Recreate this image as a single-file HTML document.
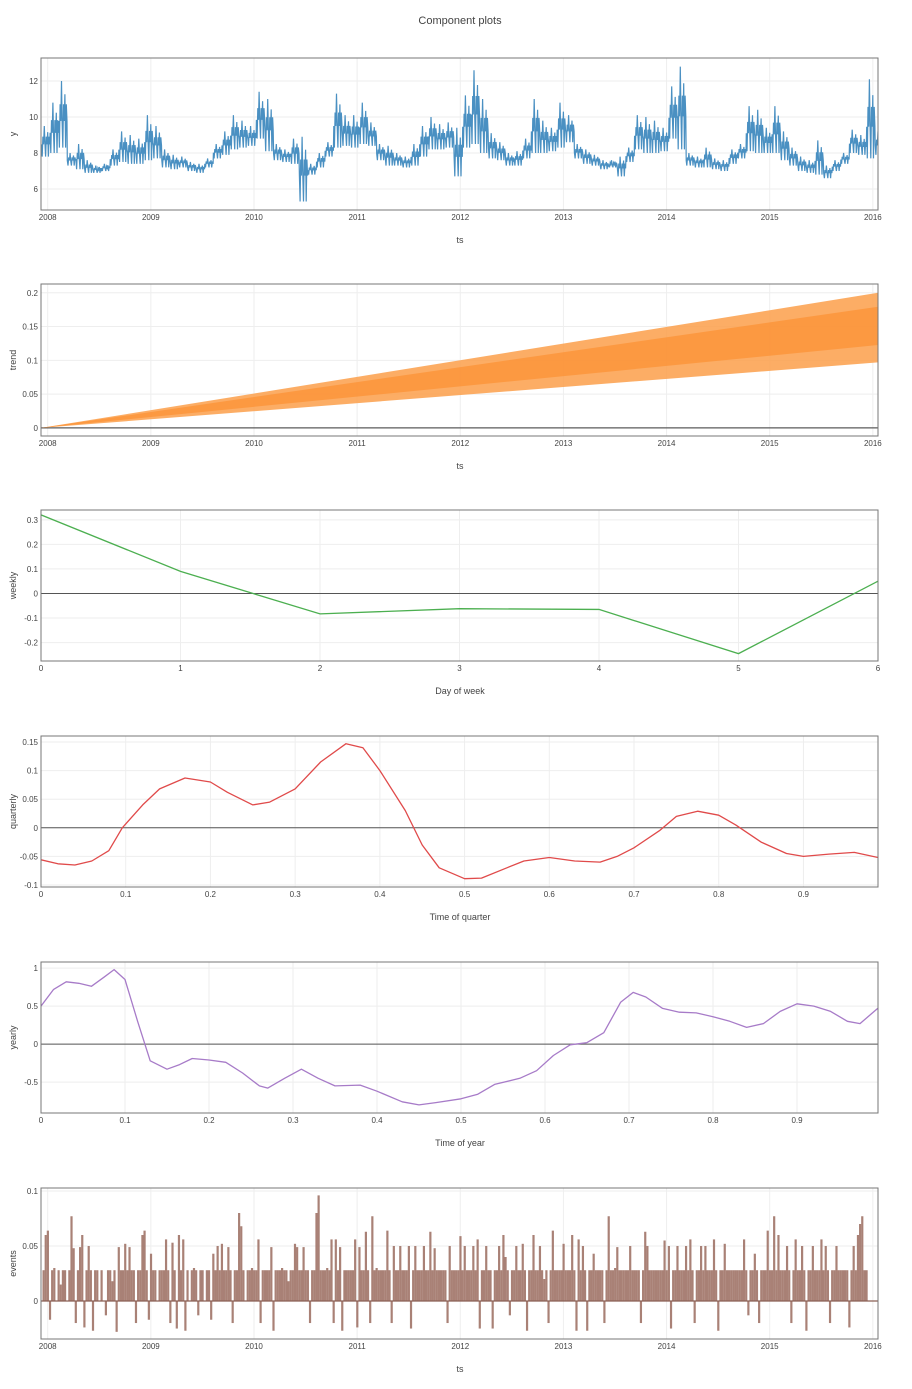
<!DOCTYPE html>
<html><head><meta charset="utf-8">
<style>
body{margin:0;background:#fff;font-family:"Liberation Sans",sans-serif;}
svg text{font-family:"Liberation Sans",sans-serif;fill:#444;}
</style></head>
<body>
<svg id="chart" width="912" height="1384" xmlns="http://www.w3.org/2000/svg">
<text x="460" y="24" text-anchor="middle" font-size="11">Component plots</text>
</svg>
<script>
// ---- data ----
const yearTicks = [2008,2009,2010,2011,2012,2013,2014,2015,2016];
const yLow = [7.8,8.0,8.3,7.3,7.1,6.9,6.9,7.0,7.3,7.5,7.4,7.4,7.6,7.7,7.2,7.1,7.2,7.0,6.9,7.2,7.7,7.9,8.2,8.3,8.4,8.8,8.1,7.6,7.5,7.4,5.3,6.8,7.2,7.8,8.3,8.4,8.3,8.5,8.4,7.6,7.3,7.3,7.2,7.3,7.8,8.2,8.2,8.3,6.7,8.3,8.5,8.0,7.7,7.6,7.3,7.3,7.7,8.0,8.0,8.1,8.3,8.6,7.7,7.4,7.3,7.1,7.2,6.7,7.5,8.2,8.0,8.0,8.1,8.8,8.2,7.3,7.2,7.2,7.1,7.0,7.4,7.7,8.1,8.0,8.0,8.0,7.6,7.3,7.0,6.9,6.8,6.6,7.0,7.4,8.0,7.9,7.7,7.9];
const yHigh = [9.5,10.8,12.0,8.0,8.5,7.6,7.3,7.4,8.2,9.2,9.0,8.8,10.1,9.5,8.2,7.9,7.8,7.5,7.4,7.7,8.5,9.2,10.1,9.8,9.5,11.4,11.0,8.5,8.2,8.8,8.9,7.4,8.0,8.6,11.3,10.1,10.1,10.8,9.7,8.5,8.4,8.0,7.8,8.5,9.5,10.0,9.6,9.7,9.4,11.2,12.6,11.0,9.1,8.6,8.0,8.1,8.8,11.0,9.8,9.4,10.8,10.1,8.5,8.2,7.9,7.6,7.6,7.8,8.3,10.1,10.0,9.8,9.4,11.7,12.8,8.0,7.8,8.3,7.7,7.6,8.2,8.5,10.6,10.4,9.4,10.6,9.2,8.3,7.8,7.6,8.7,7.3,7.6,8.0,9.3,9.0,12.1,9.2];
const yStart = 2007.94, yStep = 1/12;
const trendYears = [2007.935, 2016.05];
const trendLow = [0, 0.097];
const trendHigh = [0, 0.2];
const weekDays = [0,1,2,3,4,5,6];
const weeklyVals = [0.32,0.09,-0.083,-0.062,-0.065,-0.245,0.05];
const quarterX = [0,0.02,0.04,0.06,0.08,0.096,0.12,0.14,0.17,0.2,0.22,0.25,0.27,0.3,0.33,0.36,0.38,0.4,0.43,0.45,0.47,0.5,0.52,0.55,0.57,0.6,0.63,0.66,0.68,0.7,0.73,0.75,0.775,0.8,0.82,0.85,0.88,0.9,0.93,0.96,0.988];
const quarterVals = [-0.056,-0.063,-0.065,-0.058,-0.04,0,0.04,0.068,0.087,0.08,0.062,0.04,0.045,0.068,0.115,0.147,0.14,0.1,0.03,-0.03,-0.07,-0.089,-0.088,-0.07,-0.058,-0.052,-0.058,-0.06,-0.05,-0.035,-0.005,0.02,0.029,0.022,0.005,-0.025,-0.045,-0.05,-0.046,-0.043,-0.052];
const yearX = [0,0.015,0.03,0.045,0.06,0.075,0.087,0.1,0.115,0.13,0.15,0.165,0.18,0.2,0.22,0.24,0.26,0.27,0.29,0.31,0.33,0.35,0.38,0.4,0.43,0.45,0.47,0.5,0.52,0.54,0.57,0.59,0.61,0.63,0.65,0.67,0.69,0.705,0.72,0.74,0.76,0.78,0.8,0.82,0.84,0.86,0.88,0.9,0.92,0.94,0.96,0.975,0.996];
const yearVals = [0.5,0.72,0.82,0.8,0.76,0.88,0.98,0.85,0.3,-0.22,-0.33,-0.27,-0.19,-0.21,-0.24,-0.38,-0.55,-0.58,-0.45,-0.33,-0.45,-0.55,-0.54,-0.62,-0.76,-0.8,-0.77,-0.72,-0.66,-0.53,-0.45,-0.35,-0.15,-0.01,0.02,0.15,0.55,0.68,0.62,0.47,0.42,0.41,0.36,0.3,0.22,0.27,0.43,0.53,0.5,0.43,0.3,0.27,0.47];
const evStart = 2007.96, evStep = 1/48;
const eventVals = [
0.028,0.06,0.064,-0.017,0.028,0.03,0,0.028,0.015,0.028,0.028,0,0.028,0.077,0.048,-0.02,0.028,0.049,0.06,-0.024,0.028,0.05,0.028,-0.027,0.028,0.028,0,0.028,0,-0.013,0.028,0.028,0.018,0.028,-0.028,0.049,0.028,0.028,0.052,0.028,0.049,0.028,0.028,-0.02,0.028,0.028,0.06,0.064,
0.028,-0.017,0.043,0.028,0.028,0,0.028,0.028,0.028,0.056,0.028,-0.02,0.053,0.028,-0.025,0.06,0.028,0.056,-0.027,0.028,0,0.028,0.03,0.028,-0.013,0.028,0.028,0,0.028,0.028,-0.017,0.043,0.028,0.05,0.028,0.052,0.028,0.028,0.049,0.028,-0.02,0.028,0.028,0.08,0.068,0.028,0,0.028,
0.028,0.03,0.028,0.028,0.056,-0.02,0.028,0.028,0.028,0.028,0.049,-0.027,0.028,0.028,0.028,0.03,0.028,0.028,0.018,0.028,0.028,0.052,0.049,0.028,0.028,0.049,0.028,0.028,-0.02,0.028,0.028,0.08,0.096,0.028,0.028,0.028,0.03,0.028,0.056,-0.02,0.056,0.028,0.049,-0.027,0.028,0.028,0.028,0.028,
0.028,0.056,-0.024,0.049,0.028,0.028,0.063,0.028,-0.02,0.077,0.028,0.03,0.028,0.028,0.028,0.028,0.064,0.028,-0.02,0.05,0.028,0.028,0.05,0.028,0.028,0.028,0.05,-0.025,0.028,0.05,0.028,0.028,0.028,0.05,0.028,0.028,0.063,0.028,0.048,0.028,0.028,0.028,0.028,0.028,-0.02,0.05,0.028,0.028,
0.028,0.028,0.059,0.028,0.05,0.028,0.028,0.028,0.05,0.028,0.056,-0.025,0.028,0.028,0.05,0.028,0.028,-0.025,0.028,0.028,0.05,0.028,0.06,0.04,0.028,-0.013,0.028,0.028,0.05,0.028,0.028,0.052,0.028,-0.027,0.028,0.028,0.06,0.028,0.028,0.05,0.028,0.02,0.028,-0.02,0.028,0.064,0.028,0.028,
0.028,0.028,0.052,0.028,0.028,0.028,0.06,0.028,-0.027,0.056,0.028,0.05,0.028,-0.027,0.028,0.028,0.043,0.028,0.028,0.028,0.028,-0.02,0.028,0.077,0.028,0.028,0.03,0.049,0.028,0.028,0.028,0.028,0.028,0.05,0.028,0.028,0.028,0.028,-0.02,0.028,0.063,0.05,0.028,0.028,0.028,0.028,0.028,0.028,
0.028,0.055,0.028,0.05,-0.025,0.028,0.028,0.05,0.028,0.028,0.028,0.05,0.028,0.056,0.028,-0.02,0.028,0.028,0.05,0.028,0.05,0.028,0.028,0.028,0.056,0.028,-0.027,0.028,0.028,0.052,0.028,0.028,0.028,0.028,0.028,0.028,0.028,0.028,0.056,0.028,-0.013,0.028,0.028,0.043,0.028,-0.02,0.028,0.028,
0.028,0.064,0.028,0.028,0.077,0.028,0.06,0.028,0.028,0.028,0.05,0.028,-0.02,0.028,0.056,0.028,0.028,0.05,0.028,-0.027,0.028,0.028,0.05,0.028,0.028,0.028,0.056,0.028,0.05,0.028,-0.02,0.028,0.028,0.05,0.028,0.028,0.028,0.028,0.028,-0.024,0.028,0.05,0.028,0.06,0.07,0.077,0.028,0.028];

// ---- helpers ----
const svg = document.getElementById('chart');
const NS = 'http://www.w3.org/2000/svg';
const X0 = 41, X1 = 878;
function mk(tag, attrs, parent){ const e=document.createElementNS(NS,tag); for(const k in attrs) e.setAttribute(k,attrs[k]); (parent||svg).appendChild(e); return e; }

function panel(name, top, bottom, xmin, xmax, ymin, ymax, xticks, xfmt, yticks, yfmt, ytitle, xtitle){
  const g = mk('g',{});
  
  
  const sx = v => X0 + (v-xmin)/(xmax-xmin)*(X1-X0);
  const sy = v => bottom - (v-ymin)/(ymax-ymin)*(bottom-top);
  for(const t of yticks){
    const y=sy(t);
    mk('line',{x1:X0,x2:X1,y1:y,y2:y,stroke:'#eee','stroke-width':1},g);
    const tx=mk('text',{x:X0-3,y:y+3,'text-anchor':'end','font-size':8},g); tx.textContent=yfmt(t);
    
    
  }
  for(const t of xticks){
    const x=sx(t);
    mk('line',{x1:x,x2:x,y1:top,y2:bottom,stroke:'#eee','stroke-width':1},g);
    const tx=mk('text',{x:x,y:bottom+10,'text-anchor':'middle','font-size':8},g); tx.textContent=xfmt(t);
    
    
  }
  if(ymin<0 && ymax>0) mk('line',{x1:X0,x2:X1,y1:sy(0),y2:sy(0),stroke:'#555','stroke-width':1},g);
  const yt=mk('text',{x:0,y:0,'text-anchor':'middle','font-size':9,transform:`translate(16,${(top+bottom)/2}) rotate(-90)`},g);
  yt.textContent=ytitle;
  
  
  const xt=mk('text',{x:460,y:bottom+33,'text-anchor':'middle','font-size':9},g);
  xt.textContent=xtitle;
  
  
  const clipId='clip-'+name;
  const cp=mk('clipPath',{id:clipId},g); mk('rect',{x:X0,y:top,width:X1-X0,height:bottom-top},cp);
  const plot=mk('g',{'clip-path':`url(#${clipId})`},g);
  const frame=()=>mk('rect',{x:X0,y:top,width:X1-X0,height:bottom-top,fill:'none',stroke:'#777','stroke-width':1},g);
  return {sx,sy,plot,frame};
}

// Panel 1: y
{
  const p = panel('y',58,210,2007.935,2016.05,4.83,13.28,yearTicks,String,[6,8,10,12],String,'y','ts');
  let d='';
  yLow.forEach((lo,i)=>{
    const t=yStart+i*yStep, hi=yHigh[i], mid=lo+(hi-lo)*0.4;
    const q=lo+(hi-lo)*0.65;
    const pts=[[0,mid],[0.08,lo],[0.16,q],[0.24,mid],[0.32,hi],[0.4,mid],[0.48,lo],[0.56,q],[0.64,mid],[0.72,lo+(hi-lo)*0.8],[0.8,lo],[0.88,q],[0.96,mid]];
    pts.forEach(([f,v],j)=>{ d+=(i===0&&j===0?'M':'L')+p.sx(t+f*yStep).toFixed(1)+','+p.sy(v).toFixed(1); });
  });
  const path=mk('path',{d,fill:'none',stroke:'#4a90c2','stroke-width':1.2},p.plot);
  
  
  p.frame();
}
// Panel 2: trend
{
  const p = panel('trend',284,436,2007.935,2016.05,-0.012,0.213,yearTicks,String,[0,0.05,0.1,0.15,0.2],String,'trend','ts');
  mk('line',{x1:X0,x2:X1,y1:p.sy(0),y2:p.sy(0),stroke:'#555','stroke-width':1},p.plot);
  let d='M'+p.sx(trendYears[0])+','+p.sy(trendHigh[0]);
  trendYears.forEach((t,i)=>{ d+='L'+p.sx(t)+','+p.sy(trendHigh[i]); });
  for(let i=trendYears.length-1;i>=0;i--) d+='L'+p.sx(trendYears[i])+','+p.sy(trendLow[i]);
  const band=mk('path',{d:d+'Z',fill:'#fc9f4a',opacity:0.85},p.plot);
  
  
  let d2='';
  trendYears.forEach((t,i)=>{ const m=(trendLow[i]*0.75+trendHigh[i]*0.25); d2+=(i?'L':'M')+p.sx(t)+','+p.sy(m); });
  for(let i=trendYears.length-1;i>=0;i--){ const m=(trendLow[i]*0.2+trendHigh[i]*0.8); d2+='L'+p.sx(trendYears[i])+','+p.sy(m); }
  const core=mk('path',{d:d2+'Z',fill:'#fb9438',opacity:0.8},p.plot);
  
  
  p.frame();
}
// Panel 3: weekly
{
  const p = panel('weekly',510,661,0,6,-0.275,0.34,weekDays,String,[-0.2,-0.1,0,0.1,0.2,0.3],String,'weekly','Day of week');
  const d=weekDays.map((x,i)=>(i?'L':'M')+p.sx(x)+','+p.sy(weeklyVals[i])).join('');
  const path=mk('path',{d,fill:'none',stroke:'#4caf50','stroke-width':1.3},p.plot);
  
  
  p.frame();
}
// Panel 4: quarterly
{
  const p = panel('quarterly',736,887,0,0.988,-0.1035,0.1605,[0,0.1,0.2,0.3,0.4,0.5,0.6,0.7,0.8,0.9],String,[-0.1,-0.05,0,0.05,0.1,0.15],String,'quarterly','Time of quarter');
  const d=quarterX.map((x,i)=>(i?'L':'M')+p.sx(x).toFixed(1)+','+p.sy(quarterVals[i]).toFixed(1)).join('');
  const path=mk('path',{d,fill:'none',stroke:'#e04a4a','stroke-width':1.3,'stroke-linejoin':'round'},p.plot);
  
  
  p.frame();
}
// Panel 5: yearly
{
  const p = panel('yearly',962,1113,0,0.9964,-0.907,1.08,[0,0.1,0.2,0.3,0.4,0.5,0.6,0.7,0.8,0.9],String,[-0.5,0,0.5,1],String,'yearly','Time of year');
  const d=yearX.map((x,i)=>(i?'L':'M')+p.sx(x).toFixed(1)+','+p.sy(yearVals[i]).toFixed(1)).join('');
  const path=mk('path',{d,fill:'none',stroke:'#a77bc8','stroke-width':1.3,'stroke-linejoin':'round'},p.plot);
  
  
  p.frame();
}
// Panel 6: events
{
  const p = panel('events',1188,1339,2007.935,2016.05,-0.0345,0.1027,yearTicks,String,[0,0.05,0.1],String,'events','ts');
  eventVals.forEach((v,i)=>{
    const x=p.sx(evStart+i*evStep);
    const bar=mk('line',{x1:x,x2:x,y1:p.sy(0),y2:p.sy(v),stroke:'#a07468','stroke-width':2.2,opacity:0.9},p.plot);
    
    
  });
  mk('line',{x1:X0,x2:X1,y1:p.sy(0),y2:p.sy(0),stroke:'#8a5f55','stroke-width':1.2},p.plot);
  p.frame();
}
</script>
</body></html>
